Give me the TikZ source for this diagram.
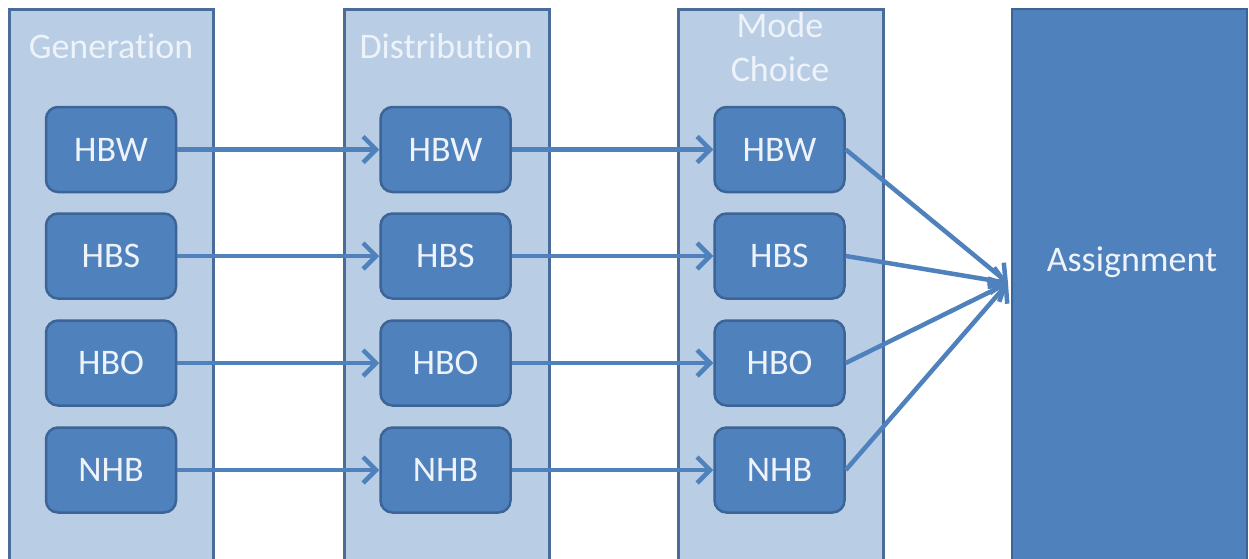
\documentclass[tikz,border=0pt]{standalone}
\usepackage{fontspec}
\setmainfont[RawFeature={-liga;-clig;-calt;-dlig}]{Carlito}
\usetikzlibrary{arrows.meta}
\definecolor{panelfill}{HTML}{B9CDE5}
\definecolor{paneledge}{HTML}{4A6C98}
\definecolor{stagefill}{HTML}{4F81BD}
\definecolor{stageedge}{HTML}{3C6496}
\definecolor{paletext}{HTML}{EEF3FA}
% keep "t" and "i" as separate glyphs
\newcommand{\nolig}{\kern0pt\relax}
\tikzset{
  panel/.style={draw=paneledge, line width=3pt, fill=panelfill},
  title/.style={text=paletext, font=\fontsize{36}{44}\selectfont, align=center, inner sep=0pt},
  stagebox/.style={draw=stageedge, line width=2.5pt, fill=stagefill, rounded corners=12pt,
    minimum width=130pt, minimum height=85pt, inner sep=0pt, anchor=center,
    text=paletext, font=\fontsize{36}{42}\selectfont},
  bigbox/.style={draw=stageedge, line width=2.5pt, fill=stagefill},
  flow/.style={draw=stagefill, line width=4.5pt,
    -{Straight Barb[length=13pt, width=26pt, line width=4.5pt]}}
}
\begin{document}
\begin{tikzpicture}[x=1pt, y=-1pt]
\useasboundingbox (0,0) rectangle (1249,558);
\clip (0,0) rectangle (1249,558);
% stage panels
\path[panel] (9,9) rectangle (213,580);
\path[panel] (344,9) rectangle (549,580);
\path[panel] (678,9) rectangle (883,580);
\path[bigbox] (1012,9) rectangle (1247,580);
% panel titles
\node[title] (tgen) at (111,46) {Generat\nolig ion};
\node[title] (tdist) at (446,46) {Distribut\nolig ion};
\node[title] (tmode) at (780,47) {Mode\\Choice};
\node[text=paletext, font=\fontsize{36}{42}\selectfont, inner sep=0pt] (asg) at (1132,262) {Assignment};
\coordinate (sink) at (1008,283);
% trip purposes in each stage
\foreach \p/\y in {HBW/149.5, HBS/256, HBO/363, NHB/470}{
  \node[stagebox] (g\p) at (111,\y) {\p};
  \node[stagebox] (d\p) at (445.5,\y) {\p};
  \node[stagebox] (m\p) at (779.5,\y) {\p};
}
% flows between stages
\foreach \p in {HBW, HBS, HBO, NHB}{
  \draw[flow] (g\p.east) -- (d\p.west);
  \draw[flow] (d\p.east) -- (m\p.west);
  \draw[flow] (m\p.east) -- (sink);
}
\end{tikzpicture}
\end{document}
